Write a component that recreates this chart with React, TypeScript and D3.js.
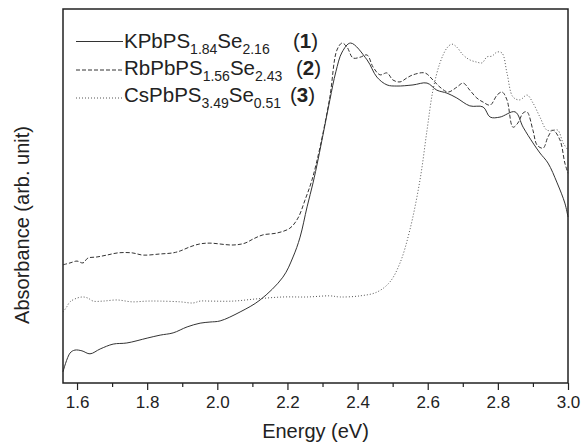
import React, { useEffect, useRef } from "react";
import * as d3 from "d3";

// energy (eV), absorbance (arb. unit, 0..1 of the frame height)
const kSeries: [number, number][] = [
  [1.56, 0.03], [1.58, 0.08], [1.594, 0.088], [1.614, 0.086], [1.637, 0.078],
  [1.666, 0.091], [1.703, 0.104], [1.742, 0.107], [1.8, 0.12], [1.837, 0.128],
  [1.874, 0.134], [1.914, 0.15], [1.951, 0.16], [1.979, 0.163], [2.008, 0.166],
  [2.065, 0.19], [2.122, 0.222], [2.187, 0.283], [2.216, 0.337], [2.236, 0.39],
  [2.256, 0.471], [2.273, 0.535], [2.287, 0.596], [2.304, 0.676], [2.321, 0.757],
  [2.338, 0.832], [2.356, 0.885], [2.38, 0.909], [2.427, 0.864], [2.455, 0.818],
  [2.484, 0.797], [2.512, 0.794], [2.558, 0.797], [2.598, 0.802], [2.626, 0.783],
  [2.655, 0.775], [2.683, 0.762], [2.72, 0.741], [2.758, 0.738], [2.778, 0.711],
  [2.806, 0.711], [2.849, 0.725], [2.872, 0.684], [2.9, 0.642], [2.92, 0.615],
  [2.943, 0.588], [2.969, 0.535], [2.991, 0.481], [3.0, 0.444],
];

const rbSeries: [number, number][] = [
  [1.56, 0.316], [1.58, 0.321], [1.6, 0.326], [1.617, 0.321], [1.631, 0.334],
  [1.657, 0.337], [1.685, 0.342], [1.717, 0.348], [1.757, 0.348], [1.788, 0.342],
  [1.837, 0.345], [1.874, 0.348], [1.894, 0.353], [1.922, 0.364], [1.951, 0.372],
  [1.979, 0.374], [2.045, 0.369], [2.079, 0.374], [2.102, 0.385], [2.13, 0.396],
  [2.17, 0.401], [2.207, 0.414], [2.23, 0.441], [2.25, 0.489], [2.27, 0.543],
  [2.293, 0.631], [2.321, 0.765], [2.341, 0.89], [2.356, 0.909], [2.37, 0.898],
  [2.387, 0.869], [2.407, 0.871], [2.427, 0.877], [2.444, 0.845], [2.464, 0.824],
  [2.484, 0.829], [2.501, 0.81], [2.521, 0.805], [2.541, 0.816], [2.558, 0.824],
  [2.592, 0.829], [2.615, 0.81], [2.635, 0.791], [2.658, 0.778], [2.683, 0.791],
  [2.701, 0.802], [2.72, 0.783], [2.74, 0.762], [2.758, 0.751], [2.778, 0.743],
  [2.798, 0.77], [2.812, 0.778], [2.826, 0.757], [2.843, 0.684], [2.857, 0.695],
  [2.872, 0.722], [2.883, 0.725], [2.9, 0.676], [2.912, 0.636], [2.929, 0.628],
  [2.943, 0.658], [2.957, 0.676], [2.977, 0.65], [2.991, 0.588], [3.0, 0.561],
];

const csSeries: [number, number][] = [
  [1.56, 0.19], [1.569, 0.201], [1.58, 0.217], [1.6, 0.227], [1.617, 0.23],
  [1.631, 0.227], [1.646, 0.219], [1.674, 0.219], [1.714, 0.222], [1.757, 0.217],
  [1.8, 0.219], [1.837, 0.219], [1.894, 0.217], [1.931, 0.214], [1.951, 0.219],
  [1.979, 0.219], [2.045, 0.219], [2.113, 0.225], [2.187, 0.23], [2.256, 0.23],
  [2.321, 0.233], [2.35, 0.23], [2.407, 0.233], [2.455, 0.243], [2.492, 0.27],
  [2.521, 0.321], [2.549, 0.409], [2.578, 0.543], [2.598, 0.676], [2.615, 0.783],
  [2.635, 0.856], [2.655, 0.896], [2.669, 0.906], [2.683, 0.898], [2.701, 0.877],
  [2.72, 0.864], [2.74, 0.858], [2.755, 0.856], [2.769, 0.872], [2.783, 0.874],
  [2.798, 0.885], [2.812, 0.882], [2.826, 0.829], [2.843, 0.765], [2.863, 0.757],
  [2.883, 0.77], [2.9, 0.749], [2.92, 0.711], [2.94, 0.676], [2.957, 0.676],
  [2.971, 0.676], [2.986, 0.642], [3.0, 0.623],
];

const compounds = [
  { base: "KPbPS", s1: "1.84", s2: "2.16", tag: "1", dash: null, tagX: 293 },
  { base: "RbPbPS", s1: "1.56", s2: "2.43", tag: "2", dash: "4,2", tagX: 296 },
  { base: "CsPbPS", s1: "3.49", s2: "0.51", tag: "3", dash: "1,2", tagX: 290 },
];
const seriesList = [kSeries, rbSeries, csSeries];

const majorTicks = [1.6, 1.8, 2.0, 2.2, 2.4, 2.6, 2.8, 3.0];
const minorTicks = [1.7, 1.9, 2.1, 2.3, 2.5, 2.7, 2.9];

const width = 584;
const height = 444;
const font = "'Liberation Sans', Arial, sans-serif";

export default function App() {
  const ref = useRef<SVGSVGElement>(null);

  useEffect(() => {
    const svg = d3.select(ref.current);
    svg.selectAll("*").remove();

    const left = 63, right = 568, top = 9, bottom = 383;

    const x = d3.scaleLinear().domain([1.56, 3.0]).range([left, right]);
    const y = d3.scaleLinear().domain([0, 1]).range([bottom, top]);

    const line = d3
      .line<[number, number]>()
      .x((d) => x(d[0]))
      .y((d) => y(d[1]))
      .curve(d3.curveCatmullRom.alpha(0.5));

    // curves
    seriesList.forEach((s, i) => {
      const p = svg
        .append("path")
        .attr("d", line(s))
        .attr("fill", "none")
        .attr("stroke", i === 2 ? "#555" : "#333")
        .attr("stroke-width", 1);
      if (compounds[i].dash) p.attr("stroke-dasharray", compounds[i].dash);
    });

    // bottom axis with major/minor ticks
    const gx = svg.append("g").attr("transform", `translate(0,${bottom})`);
    gx.call(
      d3.axisBottom(x).tickValues(minorTicks).tickSize(4).tickFormat(() => "")
    );
    gx.select(".domain").remove();
    const gx2 = svg.append("g").attr("transform", `translate(0,${bottom})`);
    gx2.call(
      d3.axisBottom(x).tickValues(majorTicks).tickSize(7).tickPadding(6).tickFormat(d3.format(".1f"))
    );
    gx2.select(".domain").remove();
    svg.selectAll(".tick line").attr("stroke", "#222").attr("stroke-width", 1.2);
    gx2.selectAll(".tick text")
      .attr("font-family", font)
      .attr("font-size", 17)
      .attr("fill", "#222");

    // frame
    svg
      .append("rect")
      .attr("x", left)
      .attr("y", top)
      .attr("width", right - left)
      .attr("height", bottom - top)
      .attr("fill", "none")
      .attr("stroke", "#222")
      .attr("stroke-width", 1.5);

    // axis titles
    svg
      .append("text")
      .attr("x", (left + right) / 2)
      .attr("y", 438)
      .attr("text-anchor", "middle")
      .attr("font-family", font)
      .attr("font-size", 20)
      .attr("fill", "#222")
      .text("Energy (eV)");

    svg
      .append("text")
      .attr("transform", `translate(29,225) rotate(-90)`)
      .attr("text-anchor", "middle")
      .attr("font-family", font)
      .attr("font-size", 20)
      .attr("fill", "#222")
      .text("Absorbance (arb. unit)");

    // legend
    const lineYs = [41.5, 70, 98];
    const baseYs = [48, 75, 102];
    compounds.forEach((c, i) => {
      const ln = svg
        .append("line")
        .attr("x1", 76)
        .attr("x2", 123)
        .attr("y1", lineYs[i])
        .attr("y2", lineYs[i])
        .attr("stroke", i === 2 ? "#555" : "#333")
        .attr("stroke-width", 1);
      if (c.dash) ln.attr("stroke-dasharray", c.dash);

      const t = svg
        .append("text")
        .attr("x", 124)
        .attr("y", baseYs[i])
        .attr("font-family", font)
        .attr("font-size", 20.5)
        .attr("fill", "#222");
      t.append("tspan").text(c.base);
      t.append("tspan").attr("font-size", 14).attr("dy", 6).text(c.s1);
      t.append("tspan").attr("dy", -6).text("Se");
      t.append("tspan").attr("font-size", 14).attr("dy", 6).text(c.s2);

      const tg = svg
        .append("text")
        .attr("x", c.tagX)
        .attr("y", baseYs[i])
        .attr("font-family", font)
        .attr("font-size", 20.5)
        .attr("fill", "#222");
      tg.append("tspan").text("(");
      tg.append("tspan").attr("font-weight", "bold").text(c.tag);
      tg.append("tspan").text(")");
    });
  }, []);

  return (
    <svg
      ref={ref}
      width={width}
      height={height}
      style={{ position: "absolute", left: 0, top: 0, background: "#fff" }}
    />
  );
}
